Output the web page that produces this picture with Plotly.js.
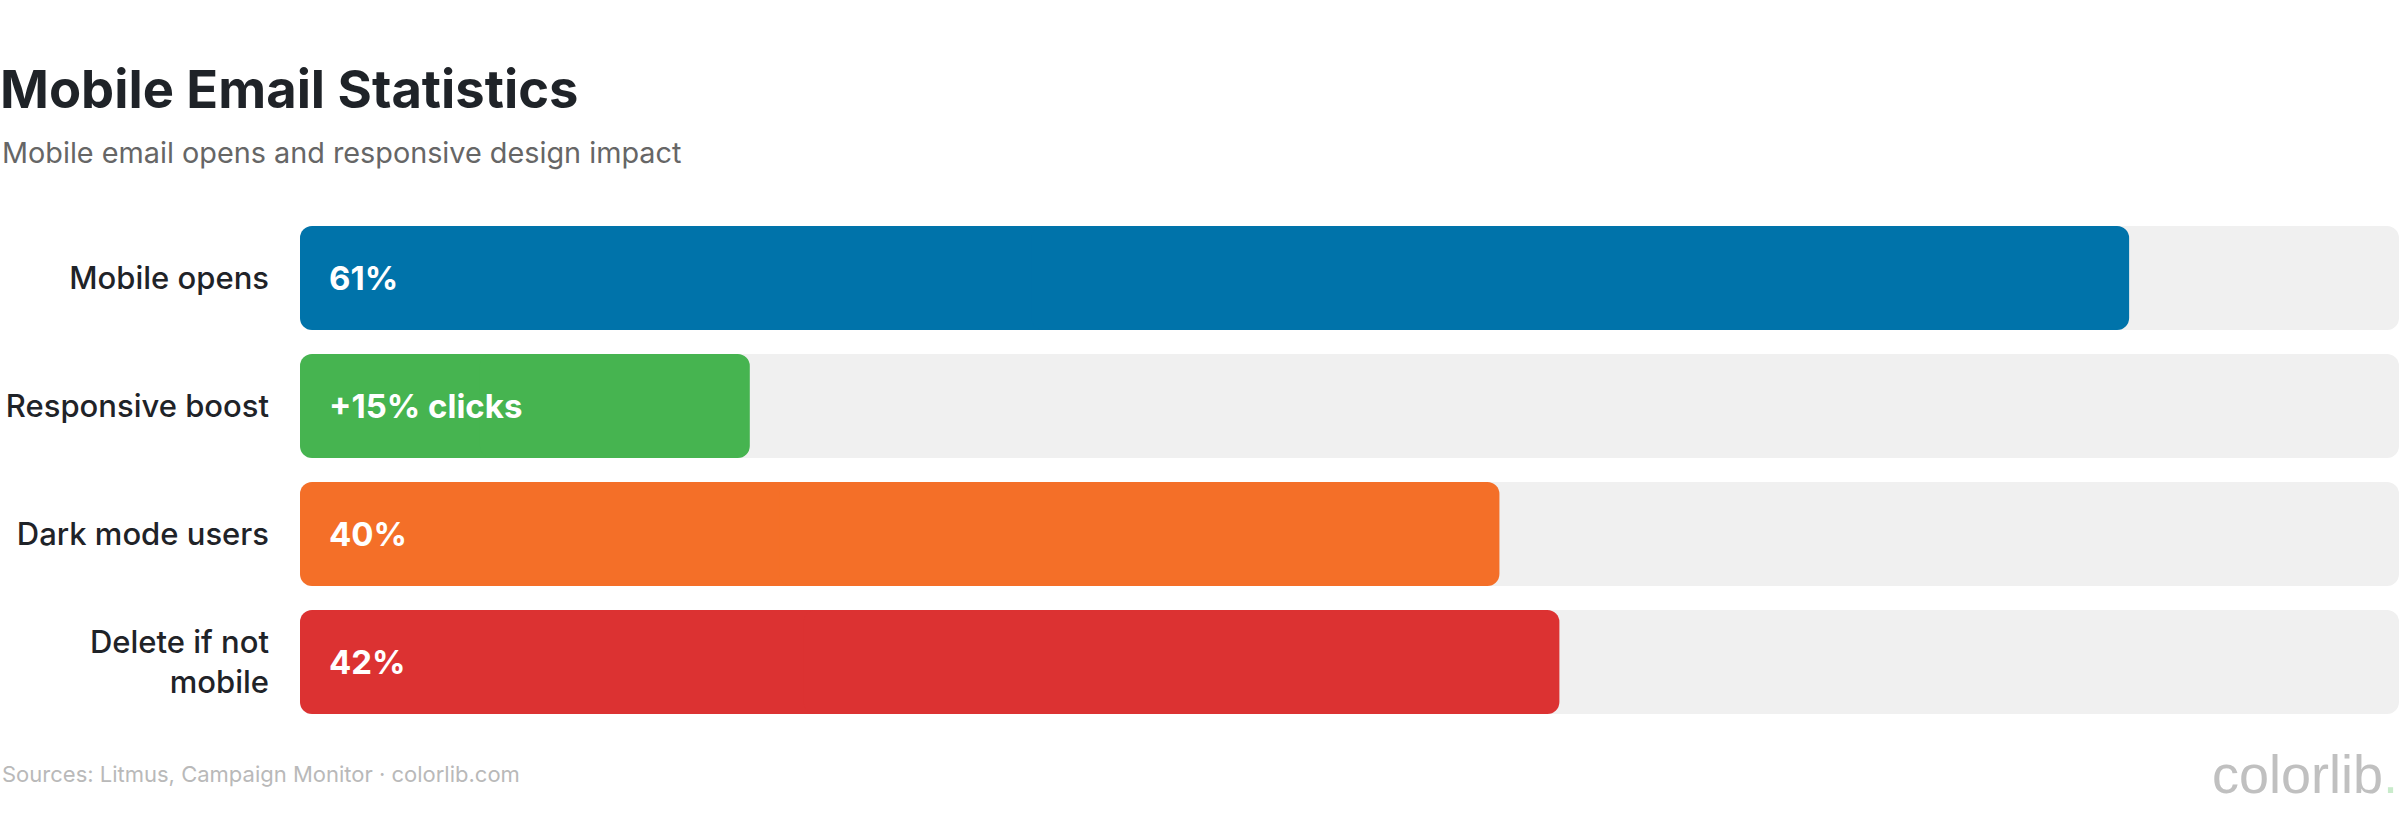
<!DOCTYPE html>
<html>
<head>
<meta charset="utf-8">
<script src="https://cdn.plot.ly/plotly-3.0.1.min.js"></script>
<style>
  html, body { margin: 0; padding: 0; background: #ffffff; }
  #chart { width: 2400px; height: 830px; }
</style>
</head>
<body>
<div id="chart"></div>
<script>
// ---- Data ----
const categories = ["Mobile opens", "Responsive boost", "Dark mode users", "Delete if not<br>mobile"];
const values = [61, 15, 40, 42];
const valueLabels = ["61%", "+15% clicks", "40%", "42%"];
const axisMax = 70;

// ---- Styles ----
const barColors = ["#0073aa", "#46b450", "#f46f28", "#dc3232"];
const trackColor = "#f0f0f0";
const FONT = "Inter, 'Noto Sans', 'DejaVu Sans', sans-serif";
const RADIUS = 12;

// Each rounded bar is drawn as two overlapping halves so both ends get rounded corners
function roundedBar(vals, color) {
  const left = {
    type: "bar", orientation: "h",
    y: categories,
    base: vals.map(v => v * 0.6),
    x: vals.map(v => -v * 0.6),
    marker: { color: color, cornerradius: RADIUS, line: { width: 0 } },
    hoverinfo: "skip", showlegend: false
  };
  const right = {
    type: "bar", orientation: "h",
    y: categories,
    base: vals.map(v => v * 0.4),
    x: vals.map(v => v * 0.6),
    marker: { color: color, cornerradius: RADIUS, line: { width: 0 } },
    hoverinfo: "skip", showlegend: false
  };
  return [left, right];
}

const trackVals = categories.map(() => axisMax);
const traces = [
  ...roundedBar(trackVals, trackColor),
  ...roundedBar(values, barColors)
];

const annotations = categories.map((c, i) => ({
  x: 0, xref: "x", y: c, yref: "y",
  xanchor: "left", yanchor: "middle",
  xshift: 27,
  text: valueLabels[i],
  showarrow: false,
  font: { family: FONT, size: 33, color: "#ffffff", weight: 700 }
}));

const plotL = 300, plotR = 1, plotT = 214, plotB = 104;
const plotW = 2400 - plotL - plotR, plotH = 830 - plotT - plotB;
const px2x = px => (px - plotL) / plotW;
const py2y = py => (830 - plotB - py) / plotH;

annotations.push({
  xref: "paper", yref: "paper",
  x: px2x(0), y: py2y(152),
  xanchor: "left", yanchor: "middle",
  text: "Mobile email opens and responsive design impact",
  showarrow: false,
  font: { family: FONT, size: 28.8, color: "#666666" }
});
annotations.push({
  xref: "paper", yref: "paper",
  x: px2x(0), y: py2y(774),
  xanchor: "left", yanchor: "middle",
  text: "Sources: Litmus, Campaign Monitor · colorlib.com",
  showarrow: false,
  font: { family: FONT, size: 22, color: "#b9b9b9" }
});
annotations.push({
  xref: "paper", yref: "paper",
  x: px2x(2400), y: py2y(774),
  xanchor: "right", yanchor: "middle",
  text: "colorlib<span style=\"color:#c9ebcb\">.</span>",
  showarrow: false,
  font: { family: "'Liberation Sans', Arial, sans-serif", size: 54, color: "#c0c0c0" }
});

const layout = {
  width: 2400, height: 830,
  paper_bgcolor: "#ffffff", plot_bgcolor: "#ffffff",
  margin: { l: plotL, r: plotR, t: plotT, b: plotB, pad: 0 },
  barmode: "overlay",
  bargap: 0.1875,
  title: {
    text: "Mobile Email Statistics",
    xref: "container", yref: "container",
    x: 0, xanchor: "left",
    y: 1 - 90 / 830, yanchor: "middle",
    font: { family: FONT, size: 52.5, color: "#1f2328", weight: 700 }
  },
  xaxis: {
    range: [0, axisMax], visible: false, showgrid: false, zeroline: false, fixedrange: true
  },
  yaxis: {
    type: "category",
    categoryorder: "array", categoryarray: categories,
    autorange: "reversed",
    showgrid: false, zeroline: false, showline: false, ticks: "",
    ticklabelstandoff: 30,
    tickfont: { family: FONT, size: 31, color: "#1f2328", weight: 500 },
    fixedrange: true
  },
  annotations: annotations,
  showlegend: false
};

Plotly.newPlot("chart", traces, layout, { displayModeBar: false, staticPlot: true });
</script>
</body>
</html>
